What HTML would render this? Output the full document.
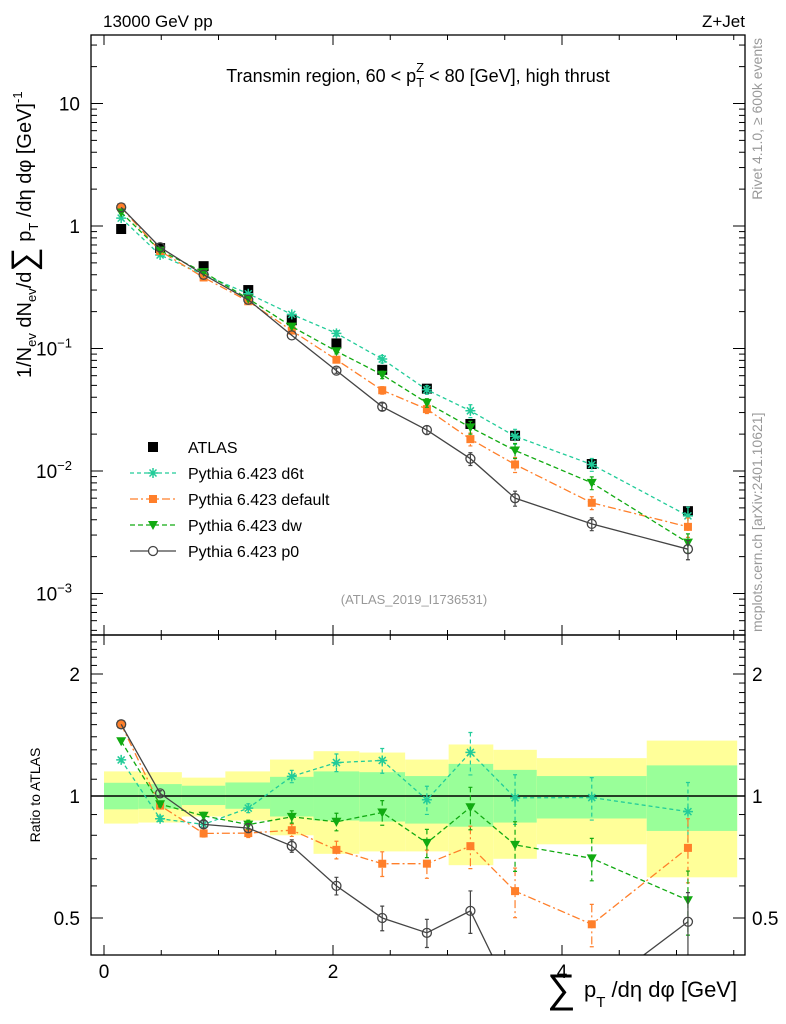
<!DOCTYPE html>
<html><head><meta charset="utf-8"><style>
body{margin:0;background:#fff}
svg{display:block;font-family:"Liberation Sans",sans-serif}
</style></head><body>
<svg id="c" width="786" height="1024" xmlns="http://www.w3.org/2000/svg">
<text x="103" y="27" font-size="17">13000 GeV pp</text>
<text x="745" y="27" font-size="17" text-anchor="end">Z+Jet</text>
<text x="418" y="82" font-size="18" text-anchor="middle">Transmin region, 60 &lt; p<tspan font-size="13" dy="5">T</tspan><tspan font-size="13" dx="-8" dy="-15">Z</tspan><tspan dy="10"> &lt; 80 [GeV], high thrust</tspan></text>
<text transform="translate(762,38) rotate(-90)" font-size="14" fill="#999" text-anchor="end">Rivet 4.1.0, ≥ 600k events</text>
<text transform="translate(762,632) rotate(-90)" font-size="14" fill="#999">mcplots.cern.ch [arXiv:2401.10621]</text>
<text x="414" y="604" font-size="13" fill="#999" text-anchor="middle">(ATLAS_2019_I1736531)</text>
<text transform="translate(31,378) rotate(-90)" font-size="20">1/N<tspan font-size="13" dy="5">ev</tspan><tspan dy="-5"> dN</tspan><tspan font-size="13" dy="5">ev</tspan><tspan dy="-5">/d</tspan><tspan font-size="34" dy="4">∑</tspan><tspan dy="-4"> p</tspan><tspan font-size="13" dy="7">T</tspan><tspan dy="-7"> /dη dφ  [GeV]</tspan><tspan font-size="13" dy="-9">-1</tspan></text>
<text transform="translate(40,795) rotate(-90)" font-size="14" text-anchor="middle">Ratio to ATLAS</text>
<text x="547" y="1002" font-size="40">∑</text>
<text x="584" y="997" font-size="22">p<tspan font-size="15" dy="10">T</tspan><tspan dy="-10"> /dη dφ [GeV]</tspan></text>
</svg>
<script>
const xEdges=[0,0.3,0.68,1.06,1.45,1.83,2.23,2.63,3.01,3.4,3.78,4.74,5.53];
const xCenters=[0.15,0.49,0.87,1.26,1.64,2.03,2.43,2.82,3.2,3.59,4.26,5.1];
const atlas=[0.945,0.66,0.47,0.30,0.17,0.11,0.067,0.047,0.0242,0.0194,0.0114,0.0047];
const bandTotLo=[0.855,0.86,0.89,0.87,0.8,0.72,0.73,0.73,0.675,0.70,0.76,0.63];
const bandTotHi=[1.15,1.145,1.11,1.15,1.23,1.29,1.28,1.23,1.34,1.30,1.24,1.37];
const bandStatLo=[0.927,0.93,0.95,0.93,0.89,0.87,0.865,0.855,0.84,0.86,0.88,0.82];
const bandStatHi=[1.078,1.07,1.06,1.08,1.115,1.15,1.145,1.12,1.2,1.16,1.12,1.19];
const d6t=[1.16,0.58,0.40,0.28,0.19,0.133,0.082,0.046,0.031,0.0192,0.0113,0.0043];
const deflt=[1.42,0.625,0.38,0.243,0.14,0.081,0.0456,0.032,0.0182,0.0113,0.0055,0.0035];
const dw=[1.29,0.63,0.42,0.255,0.151,0.095,0.061,0.036,0.0227,0.0147,0.008,0.0026];
const p0=[1.42,0.67,0.40,0.25,0.128,0.066,0.0335,0.0216,0.0126,0.006,0.0037,0.0023];
const mcRelErr=[0.01,0.015,0.02,0.025,0.035,0.05,0.07,0.08,0.12,0.14,0.12,0.18];
const xTicks=[0,2,4];
const yMainTicks=[1,0,-1,-2,-3];
const yRatioTicks=[2,1,0.5];

const NS="http://www.w3.org/2000/svg";
const svg=document.getElementById('c');
const L=91,R=745,T=35,M=635,B=955;
const X=v=>104+114.5*v;
const Y=v=>226-122.5*Math.log10(v);
const YR=r=>796-122*Math.log2(r);
function mk(tag,attrs,parent){const e=document.createElementNS(NS,tag);for(const k in attrs)e.setAttribute(k,attrs[k]);(parent||svg).appendChild(e);return e;}

const defs=mk('defs',{});
const c1=mk('clipPath',{id:'cm'},defs);mk('rect',{x:L,y:T,width:R-L,height:M-T},c1);
const c2=mk('clipPath',{id:'cr'},defs);mk('rect',{x:L,y:M,width:R-L,height:B-M},c2);
const gMain=mk('g',{'clip-path':'url(#cm)'});


const gRatio=mk('g',{'clip-path':'url(#cr)'});



for(let i=0;i<atlas.length;i++){
  const x0=X(xEdges[i]),x1=X(xEdges[i+1]);
  const r1=mk('rect',{x:x0,y:YR(bandTotHi[i]),width:x1-x0,height:YR(bandTotLo[i])-YR(bandTotHi[i]),fill:'#ffff99'},gRatio);
  
  
  const r2=mk('rect',{x:x0,y:YR(bandStatHi[i]),width:x1-x0,height:YR(bandStatLo[i])-YR(bandStatHi[i]),fill:'#99ff99'},gRatio);
  
  
}
const one=mk('line',{x1:L,x2:R,y1:YR(1),y2:YR(1),stroke:'#000','stroke-width':1.5},gRatio);



function marker(g,type,x,y,col){
  let e;
  if(type==='sq'){e=mk('rect',{x:x-5,y:y-5,width:10,height:10,fill:col},g);}
  else if(type==='osq'){e=mk('rect',{x:x-4,y:y-4,width:8,height:8,fill:col},g);}
  else if(type==='tri'){e=mk('path',{d:`M${x-5},${y-4}L${x+5},${y-4}L${x},${y+5}Z`,fill:col},g);}
  else if(type==='circ'){e=mk('circle',{cx:x,cy:y,r:4.5,fill:'none',stroke:col,'stroke-width':1.3},g);}
  else {e=mk('path',{d:`M${x-5},${y}H${x+5}M${x},${y-5}V${y+5}M${x-3.5},${y-3.5}L${x+3.5},${y+3.5}M${x-3.5},${y+3.5}L${x+3.5},${y-3.5}`,stroke:col,'stroke-width':1.5},g);}
  return e;
}
const series=[
 {name:'d6t',vals:d6t,col:'#22cc99',dash:'4,3',m:'star'},
 {name:'default',vals:deflt,col:'#ff7f2a',dash:'8,3,2,3',m:'osq'},
 {name:'dw',vals:dw,col:'#11aa11',dash:'5,3',m:'tri'},
 {name:'p0',vals:p0,col:'#444444',dash:'',m:'circ'}
];
for(let i=0;i<atlas.length;i++){
  const m=marker(gMain,'sq',X(xCenters[i]),Y(atlas[i]),'#000');
  
  
}
series.forEach(s=>{
  [[gMain,(v,i)=>Y(v)],[gRatio,(v,i)=>YR(v/atlas[i])]].forEach(([g,fy])=>{
    const pts=s.vals.map((v,i)=>X(xCenters[i])+','+fy(v,i)).join(' ');
    const pl=mk('polyline',{points:pts,fill:'none',stroke:s.col,'stroke-width':1.3,'stroke-dasharray':s.dash},g);
    
    
    s.vals.forEach((v,i)=>{
      const x=X(xCenters[i]);
      const e=v*mcRelErr[i];
      const y1=fy(v+e,i),y2=fy(Math.max(v-e,1e-6),i);
      if(y2-y1>4){const eb=mk('path',{d:`M${x},${y1}V${y2}M${x-2},${y1}H${x+2}M${x-2},${y2}H${x+2}`,stroke:s.col,'stroke-width':1.2,'stroke-dasharray':s.dash},g);
        
        }
      const mm=marker(g,s.m,x,fy(v,i),s.col);
      
      
    });
  });
});

[[T,M],[M,B]].forEach(([a,b])=>{const f=mk('rect',{x:L,y:a,width:R-L,height:b-a,fill:'none',stroke:'#000','stroke-width':1.3});
 
 });
for(let v=0;v<=5.6;v+=0.5){
  const x=X(v);if(x>R)break;
  const major=Math.abs(v%2)<1e-6;
  const len=major?10:5;
  [M,B].forEach(yb=>{mk('line',{x1:x,x2:x,y1:yb,y2:yb-len,stroke:'#000'});});
  [T,M].forEach(yt=>{mk('line',{x1:x,x2:x,y1:yt,y2:yt+len,stroke:'#000'});});
}
xTicks.forEach(v=>{const t=mk('text',{x:X(v),y:978,'font-size':19,'text-anchor':'middle'});t.textContent=v;
 
 });
for(let d=-4;d<=1;d++){
  for(let k=1;k<10;k++){
    const y=Y(k*Math.pow(10,d));if(y<T||y>M)continue;
    const len=k===1?12:6;
    mk('line',{x1:L,x2:L+len,y1:y,y2:y,stroke:'#000'});
    mk('line',{x1:R,x2:R-len,y1:y,y2:y,stroke:'#000'});
  }
}
yMainTicks.forEach(d=>{
  const y=Y(Math.pow(10,d));
  const t=mk('text',{x:80,y:y+7,'font-size':19,'text-anchor':'end'});
  
  
  if(d===1)t.textContent='10';else if(d===0)t.textContent='1';
  else{t.setAttribute('x',72);t.textContent='10';const s=mk('tspan',{'font-size':13,dy:-8},t);s.textContent=String(d).replace('-','−');}
});
[0.5,0.6,0.7,0.8,0.9,1,1.1,1.2,1.3,1.4,1.5,1.6,1.7,1.8,1.9,2,2.1,2.2,2.3,2.4].forEach(r=>{
  const y=YR(r);const major=(r===0.5||r===1||r===2);const len=major?12:6;
  mk('line',{x1:L,x2:L+len,y1:y,y2:y,stroke:'#000'});
  mk('line',{x1:R,x2:R-len,y1:y,y2:y,stroke:'#000'});
});
yRatioTicks.forEach(r=>{
  const a=mk('text',{x:80,y:YR(r)+7,'font-size':19,'text-anchor':'end'});a.textContent=r;
  
  
  const b=mk('text',{x:752,y:YR(r)+7,'font-size':19});b.textContent=r;
  
  
});
const legNames=['ATLAS','Pythia 6.423 d6t','Pythia 6.423 default','Pythia 6.423 dw','Pythia 6.423 p0'];
legNames.forEach((n,i)=>{
  const y=447+26*i;
  const g=mk('g',{});
  
  
  if(i===0)marker(g,'sq',153,y,'#000');
  else{const s=series[i-1];mk('line',{x1:130,x2:176,y1:y,y2:y,stroke:s.col,'stroke-width':1.3,'stroke-dasharray':s.dash},g);
    const mm=marker(g,s.m,153,y,s.col); if(s.m==='circ')mm.setAttribute('fill','#fff');}
  const t=mk('text',{x:188,y:y+6,'font-size':16},g);t.textContent=n;
});
</script>
</body></html>
